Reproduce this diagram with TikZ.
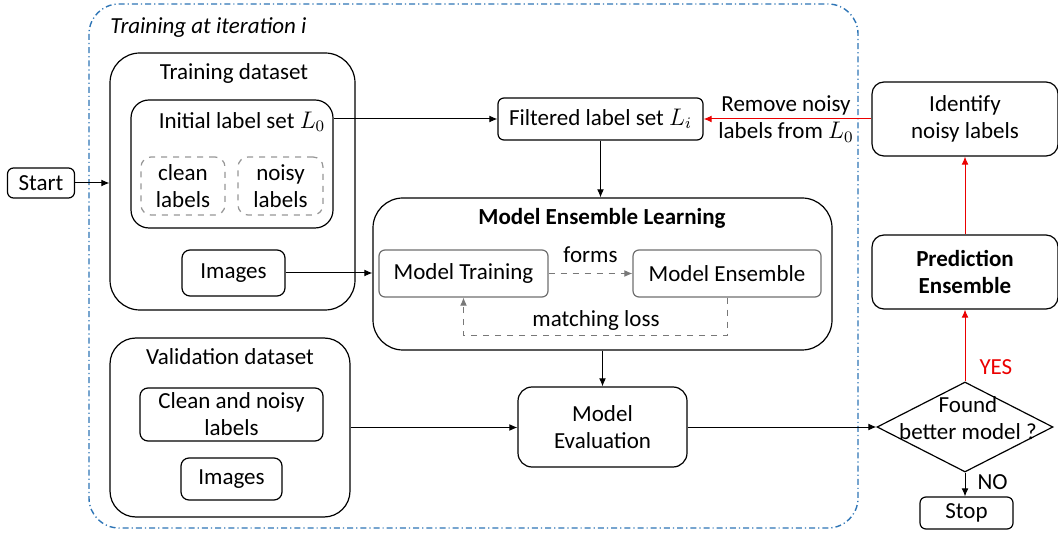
\documentclass[tikz,border=0pt]{standalone}
\usepackage{fontspec}
\setmainfont{Carlito}
\usetikzlibrary{arrows.meta, shapes.geometric, positioning, calc}
\definecolor{IterBlau}{RGB}{46,117,182}
\definecolor{RandGrau}{RGB}{110,110,110}
\definecolor{StrichGrau}{RGB}{150,150,150}
\definecolor{PfeilRot}{RGB}{235,0,0}

\tikzset{
  box/.style={draw=black, line width=0.6pt, inner sep=0pt, align=center, rounded corners=#1},
  box/.default=3pt,
  graybox/.style={draw=RandGrau, line width=0.6pt, inner sep=0pt, align=center, rounded corners=3pt},
  dashbox/.style={draw=StrichGrau, dashed, line width=0.6pt, inner sep=0pt, align=center, rounded corners=5pt},
  pfeil/.style={line width=0.5pt, -{Latex[length=4pt,width=3.4pt]}},
  txt/.style={inner sep=0pt, align=center},
}

\begin{document}
\begin{tikzpicture}[x=0.5pt, y=-0.5pt, font=\fontsize{11.5}{13.5}\selectfont]
    \useasboundingbox (0,0) rectangle (1058,533);
    % iteration frame
    \draw[IterBlau, line width=0.7pt, dash pattern=on 3pt off 1.5pt on 0.6pt off 1.5pt, rounded corners=15pt]
        (89,4) rectangle (858,528);
    \node[txt, anchor=west, font=\fontsize{11.5}{13.5}\selectfont\itshape] (iter) at (110,28) {Training at iteration i};

    % left side: datasets
    \node[box=3pt, minimum width=33.5pt, minimum height=15pt] (start) at (41,183) {Start};
    \node[box=15pt, minimum width=122.5pt, minimum height=128.5pt] (tds) at (232.5,181.5) {};
    \node[txt] (tdstitle) at (234,73) {Training dataset};
    \node[box=9pt, minimum width=101pt, minimum height=64pt] (l0) at (232,164) {};
    \node[txt] (l0title) at (242,122) {Initial label set $L_0$};
    \node[dashbox, minimum width=42pt, minimum height=29pt] (clean) at (183,186) {clean\\labels};
    \node[dashbox, minimum width=42.5pt, minimum height=29pt] (noisy) at (280.5,186) {noisy\\labels};
    \node[box=4pt, minimum width=51.5pt, minimum height=23pt] (img1) at (233.5,273) {Images};

    \node[box=13pt, minimum width=120pt, minimum height=89.5pt] (vds) at (230,427.5) {};
    \node[txt] (vdstitle) at (230,357) {Validation dataset};
    \node[box=4pt, minimum width=91.5pt, minimum height=26.5pt] (cnl) at (231.5,414.5) {Clean and noisy\\labels};
    \node[box=4pt, minimum width=50.5pt, minimum height=21pt] (img2) at (231.5,479) {Images};

    % middle: learning
    \node[box=3pt, minimum width=102.5pt, minimum height=21pt] (fls) at (600.5,119) {Filtered label set $L_i$};
    \node[box=15pt, minimum width=229.5pt, minimum height=76pt] (mel) at (602.5,274) {};
    \node[txt, font=\fontsize{11.5}{13.5}\selectfont\bfseries] (meltitle) at (602,218) {Model Ensemble Learning};
    \node[graybox, minimum width=84.5pt, minimum height=23.5pt] (mtr) at (463.5,273.5) {Model Training};
    \node[graybox, minimum width=94pt, minimum height=23.5pt] (mens) at (727,273.5) {Model Ensemble};
    \node[box=7pt, minimum width=84.5pt, minimum height=40pt] (mev) at (602.5,427) {Model\\Evaluation};

    % right side: decision
    \node[draw=black, line width=0.6pt, shape=diamond, inner sep=0pt, minimum width=88pt, minimum height=45pt] (dia) at (965,427) {};
    \node[txt] (diatext) at (968,418) {Found\\better model ?};
    \node[box=6pt, minimum width=93pt, minimum height=37pt] (pred) at (965,272) {\textbf{Prediction}\\\textbf{Ensemble}};
    \node[box=6pt, minimum width=93pt, minimum height=37pt] (ident) at (965,119) {Identify\\noisy labels};
    \node[box=3pt, minimum width=46.5pt, minimum height=16pt] (stop) at (966.5,513) {Stop};

    % connectors
    \draw[pfeil] (start.east) -- (start.east -| tds.west);
    \draw[pfeil] (l0.east |- fls.west) -- (fls.west);
    \draw[pfeil] (img1.east) -- (img1.east -| mel.west);
    \draw[pfeil] (fls.south) -- (fls.south |- mel.north);
    \draw[pfeil] (mel.south -| mev.north) -- (mev.north);
    \draw[pfeil] (vds.east) -- (vds.east -| mev.west);
    \draw[pfeil] (mev.east) -- (dia.west);
    \draw[pfeil, StrichGrau!80!black, dashed] (mtr.east) -- node[txt, above=5pt, text=black] (forms) {forms} (mens.west);
    \draw[pfeil, StrichGrau!80!black, dashed] (mens.south) -- ++(0,38) coordinate (loopcorner) -| (mtr.south);
    \node[txt] (mloss) at (596,320) {matching loss};
    \draw[pfeil, PfeilRot] (dia.north) -- node[txt, right=7pt, pos=0.2, text=PfeilRot] (yes) {YES} (pred.south);
    \draw[pfeil, PfeilRot] (pred.north) -- (ident.south);
    \draw[pfeil, PfeilRot] (ident.west) -- (fls.east);
    \node[txt] (remove) at (786,119) {Remove noisy\\labels from $L_0$};
    \draw[pfeil] (dia.south) -- node[txt, right=6pt, pos=0.4] (no) {NO} (dia.south |- stop.north);
\end{tikzpicture}
\end{document}
